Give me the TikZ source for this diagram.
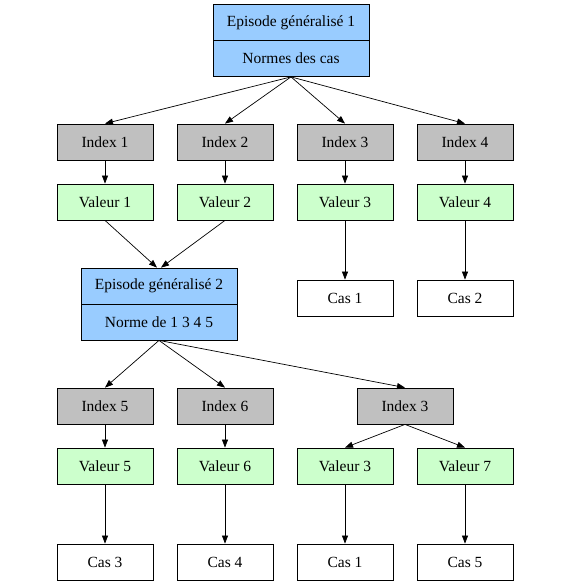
\documentclass[tikz,border=0pt]{standalone}
\usepackage{fontspec}
\setmainfont{Liberation Serif}
\usetikzlibrary{arrows.meta}
\definecolor{epblue}{HTML}{99CCFF}
\definecolor{idxgray}{HTML}{C0C0C0}
\definecolor{valgreen}{HTML}{CCFFCC}
\begin{document}
\begin{tikzpicture}[x=1pt,y=-1pt,
  box/.style={draw,line width=0.8pt,minimum width=96pt,minimum height=36pt,inner sep=0pt,font=\rmfamily\fontsize{15.5}{17}\selectfont},
  epbox/.style={box,fill=epblue,minimum width=156pt},
  idxbox/.style={box,fill=idxgray},
  valbox/.style={box,fill=valgreen},
  casbox/.style={box,fill=white},
  arr/.style={-{Triangle[length=8pt,width=6pt]},line width=0.7pt}]
\useasboundingbox (0,0) rectangle (574,586);
% top episode
\node[epbox] (e1a) at (291,22.5) {Episode généralisé 1};
\node[epbox] (e1b) at (291,58.5) {Normes des cas};
% row 1
\node[idxbox] (i1) at (105,142) {Index 1};
\node[idxbox] (i2) at (225,142) {Index 2};
\node[idxbox] (i3) at (345,142) {Index 3};
\node[idxbox] (i4) at (465,142) {Index 4};
\node[valbox] (v1) at (105,202) {Valeur 1};
\node[valbox] (v2) at (225,202) {Valeur 2};
\node[valbox] (v3) at (345,202) {Valeur 3};
\node[valbox] (v4) at (465,202) {Valeur 4};
\node[casbox] (c1) at (345,298) {Cas 1};
\node[casbox] (c2) at (465,298) {Cas 2};
% second episode
\node[epbox] (e2a) at (159,286) {Episode généralisé 2};
\node[epbox] (e2b) at (159,322) {Norme de 1 3 4 5};
% row 2
\node[idxbox] (i5) at (105,406) {Index 5};
\node[idxbox] (i6) at (225,406) {Index 6};
\node[idxbox] (i3b) at (405,406) {Index 3};
\node[valbox] (v5) at (105,466) {Valeur 5};
\node[valbox] (v6) at (225,466) {Valeur 6};
\node[valbox] (v3b) at (345,466) {Valeur 3};
\node[valbox] (v7) at (465,466) {Valeur 7};
\node[casbox] (c3) at (105,562) {Cas 3};
\node[casbox] (c4) at (225,562) {Cas 4};
\node[casbox] (c1b) at (345,562) {Cas 1};
\node[casbox] (c5) at (465,562) {Cas 5};
% arrows
\foreach \t in {i1,i2,i3,i4} \draw[arr] (e1b.south) -- (\t.north);
\draw[arr] (i1) -- (v1);
\draw[arr] (i2) -- (v2);
\draw[arr] (i3) -- (v3);
\draw[arr] (i4) -- (v4);
\draw[arr] (v3) -- (c1);
\draw[arr] (v4) -- (c2);
\draw[arr] (v1.south) -- ([xshift=-2pt]e2a.north);
\draw[arr] (v2.south) -- ([xshift=2pt]e2a.north);
\foreach \t in {i5,i6,i3b} \draw[arr] (e2b.south) -- (\t.north);
\draw[arr] (i5) -- (v5);
\draw[arr] (i6) -- (v6);
\draw[arr] (i3b.south) -- (v3b.north);
\draw[arr] (i3b.south) -- (v7.north);
\draw[arr] (v5) -- (c3);
\draw[arr] (v6) -- (c4);
\draw[arr] (v3b) -- (c1b);
\draw[arr] (v7) -- (c5);
\end{tikzpicture}
\end{document}
